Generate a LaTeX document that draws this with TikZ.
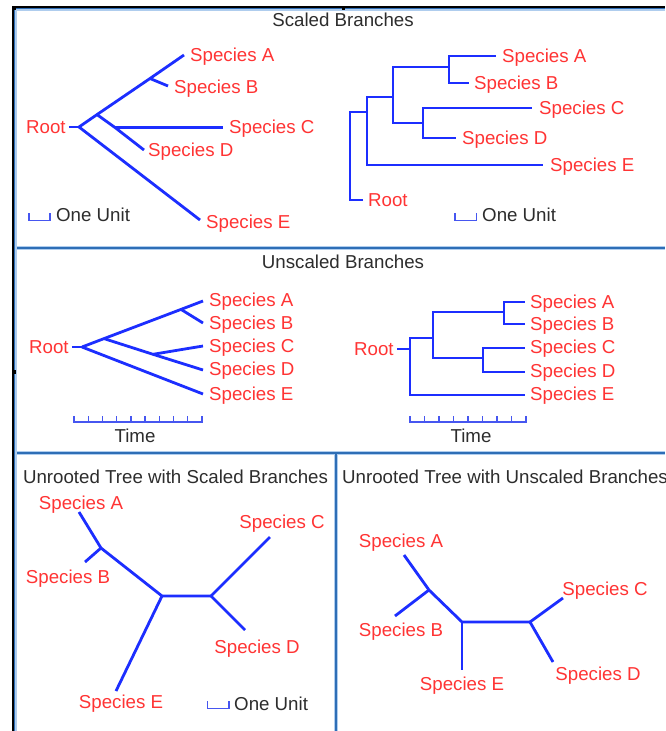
\documentclass[tikz,border=0pt]{standalone}
\usepackage{fontspec}
\setmainfont{Liberation Sans}
\definecolor{treeblue}{RGB}{28,46,255}
\definecolor{barblue}{RGB}{70,86,240}
\definecolor{labred}{RGB}{255,52,52}
\definecolor{titlegray}{RGB}{45,45,45}
\definecolor{frameblue}{RGB}{46,110,182}
\definecolor{framelight}{RGB}{175,205,238}
\begin{document}
\begin{tikzpicture}[x=1pt,y=-1pt,
  branch/.style={draw=treeblue, line width=2.8pt, line join=miter},
  scalebar/.style={draw=barblue, line width=1.3pt},
  txt/.style={inner sep=0pt, text height=13.4pt, text depth=0pt,
    font=\fontsize{18.7}{22}\selectfont},
  species/.style={txt, text=labred},
  heading/.style={txt, text=titlegray},
  sep/.style={draw=frameblue, line width=2pt},
  sephalo/.style={draw=framelight, line width=4.5pt}]
\useasboundingbox (0,0) rectangle (665,731);
\clip (0,0) rectangle (665,731);
\fill[white] (0,0) rectangle (665,731);

% ---- frame and panel separators ----
\draw[sephalo] (13,248) -- (665,248);
\draw[sephalo] (13,453) -- (665,453);
\draw[sephalo] (336,453) -- (336,731);
\draw[sep] (13,248) -- (665,248);
\draw[sep] (13,453) -- (665,453);
\draw[sep] (336,453) -- (336,731);
\draw[framelight, line width=3pt] (15.5,731) -- (15.5,9.5) -- (665,9.5);
\draw[frameblue, line width=2pt] (13.8,731) -- (13.8,7.8) -- (665,7.8);
\draw[black, line width=1.3pt] (12.9,731) -- (12.9,6.9) -- (665,6.9);
\fill[black] (12,6) rectangle (15.5,10);
\fill[black] (341.5,6) rectangle (344.5,10);
\fill[black] (12,370) rectangle (15.5,374);

% ---- titles ----
\node[heading] (t1) at (343,20) {Scaled Branches};
\node[heading] (t2) at (343,262) {Unscaled Branches};
\node[heading] (t3) at (175.5,477) {Unrooted Tree with Scaled Branches};
\node[heading, anchor=west] (t4) at (342,477) {Unrooted Tree with Unscaled Branches};

% ---- scaled branches, diagonal ----
\node[species, anchor=west] (aR) at (26,127) {Root};
\node[species, anchor=west] (aA) at (190,55) {Species A};
\node[species, anchor=west] (aB) at (174,87) {Species B};
\node[species, anchor=west] (aC) at (229,127) {Species C};
\node[species, anchor=west] (aD) at (148,150) {Species D};
\node[species, anchor=west] (aE) at (206,222) {Species E};
\coordinate (ar) at (79,127);
\coordinate (an1) at (97,114.6);
\coordinate (anab) at (150,78.5);
\coordinate (ancd) at (115,127.5);
\coordinate (aa) at (184,55);
\coordinate (ab) at (168,86);
\coordinate (ac) at (223,127.5);
\coordinate (ad) at (144,150);
\coordinate (ae) at (200,220);
\draw[branch] ([xshift=3pt]aR.east) -- (ar);
\draw[branch] (ar) -- (an1) -- (anab) -- (aa);
\draw[branch] (anab) -- (ab);
\draw[branch] (an1) -- (ancd) -- (ad);
\draw[branch] (ancd) -- (ac);
\draw[branch] (ar) -- (ae);
\draw[scalebar] (29,213) -- (29,220.5) -- (50,220.5) -- (50,213);
\node[heading, anchor=west] (aU) at (56,215) {One Unit};

% ---- scaled branches, rectangular ----
\node[species, anchor=west] (bR) at (368,200) {Root};
\node[species, anchor=west] (bA) at (502,56) {Species A};
\node[species, anchor=west] (bB) at (474,83) {Species B};
\node[species, anchor=west] (bC) at (539,108) {Species C};
\node[species, anchor=west] (bD) at (462,138) {Species D};
\node[species, anchor=west] (bE) at (550,165) {Species E};
\coordinate (b0) at (350,112);
\coordinate (b1) at (367,112);
\coordinate (b2) at (393,97);
\coordinate (b3) at (449,67);
\coordinate (b4) at (423,123);
\coordinate (ba) at (496,56);
\coordinate (bb) at (469,83);
\coordinate (bc) at (532,108);
\coordinate (bd) at (456,138);
\coordinate (be) at (543,165);
\draw[branch] ([xshift=-5pt]bR.west) -| (b0) -- (b1);
\draw[branch] (b1) |- (b2);
\draw[branch] (b1) |- (be);
\draw[branch] (b2) |- (b3);
\draw[branch] (b2) |- (b4);
\draw[branch] (b3) |- (ba);
\draw[branch] (b3) |- (bb);
\draw[branch] (b4) |- (bc);
\draw[branch] (b4) |- (bd);
\draw[scalebar] (455,213) -- (455,220.5) -- (476.5,220.5) -- (476.5,213);
\node[heading, anchor=west] (bU) at (482,215) {One Unit};

% ---- unscaled branches, diagonal ----
\node[species, anchor=west] (cR) at (29,347) {Root};
\node[species, anchor=west] (cA) at (209,300) {Species A};
\node[species, anchor=west] (cB) at (209,323) {Species B};
\node[species, anchor=west] (cC) at (209,346) {Species C};
\node[species, anchor=west] (cD) at (209,369) {Species D};
\node[species, anchor=west] (cE) at (209,394) {Species E};
\coordinate (cr) at (82,347);
\coordinate (cn1) at (104,338.6);
\coordinate (cnab) at (181,309.4);
\coordinate (cncd) at (153,354.3);
\coordinate (ca) at (203,301);
\coordinate (cb) at (203,323);
\coordinate (cc) at (203,346);
\coordinate (cd) at (203,370);
\coordinate (ce) at (203,394);
\draw[branch] ([xshift=3pt]cR.east) -- (cr);
\draw[branch] (cr) -- (cn1) -- (cnab) -- (ca);
\draw[branch] (cnab) -- (cb);
\draw[branch] (cn1) -- (cncd) -- (cd);
\draw[branch] (cncd) -- (cc);
\draw[branch] (cr) -- (ce);
\draw[scalebar] (74,422) -- (202,422);
\foreach \i in {0,...,9} \draw[scalebar] ({74+\i*128/9},422.6) -- ++(0,-7);
\node[heading] (cT) at (135,436) {Time};

% ---- unscaled branches, rectangular ----
\node[species, anchor=west] (dR) at (354,349) {Root};
\node[species, anchor=west] (dA) at (530,302) {Species A};
\node[species, anchor=west] (dB) at (530,324) {Species B};
\node[species, anchor=west] (dC) at (530,347) {Species C};
\node[species, anchor=west] (dD) at (530,371) {Species D};
\node[species, anchor=west] (dE) at (530,394) {Species E};
\coordinate (d1) at (410,349);
\coordinate (d2) at (433,338);
\coordinate (d3) at (504,312);
\coordinate (d4) at (483,358);
\coordinate (da) at (525,302);
\coordinate (db) at (525,324);
\coordinate (dc) at (525,348);
\coordinate (dd) at (525,372);
\coordinate (de) at (525,395);
\draw[branch] ([xshift=3.5pt]dR.east) -- (d1);
\draw[branch] (d1) |- (d2);
\draw[branch] (d1) |- (de);
\draw[branch] (d2) |- (d3);
\draw[branch] (d2) |- (d4);
\draw[branch] (d3) |- (da);
\draw[branch] (d3) |- (db);
\draw[branch] (d4) |- (dc);
\draw[branch] (d4) |- (dd);
\draw[scalebar] (410,422) -- (526,422);
\foreach \i in {0,...,8} \draw[scalebar] ({410+\i*116/8},422.6) -- ++(0,-7);
\node[heading] (dT) at (471,436) {Time};

% ---- unrooted tree, scaled ----
\node[species] (eA) at (81,503) {Species A};
\node[species] (eB) at (68,577) {Species B};
\node[species] (eC) at (282,522) {Species C};
\node[species] (eD) at (257,647) {Species D};
\node[species] (eE) at (121,702) {Species E};
\coordinate (e1) at (101,548);
\coordinate (e2) at (162,596);
\coordinate (e3) at (211,596);
\coordinate (ea) at (79,512);
\coordinate (eb) at (85,562);
\coordinate (ec) at (270,537);
\coordinate (ed) at (245,630);
\coordinate (ee) at (116,691);
\draw[branch] (ea) -- (e1) -- (e2) -- (e3);
\draw[branch] (e1) -- (eb);
\draw[branch] (e2) -- (ee);
\draw[branch] (e3) -- (ec);
\draw[branch] (e3) -- (ed);
\draw[scalebar] (207.5,701) -- (207.5,708.5) -- (229,708.5) -- (229,701);
\node[heading, anchor=west] (eU) at (234,704) {One Unit};

% ---- unrooted tree, unscaled ----
\node[species] (fA) at (401,541) {Species A};
\node[species] (fB) at (401,630) {Species B};
\node[species] (fC) at (605,589) {Species C};
\node[species] (fD) at (598,674) {Species D};
\node[species] (fE) at (462,684) {Species E};
\coordinate (f1) at (429,590);
\coordinate (f2) at (462,622);
\coordinate (f3) at (530,622);
\coordinate (fa) at (404,555);
\coordinate (fb) at (395,616);
\coordinate (fc) at (563,598);
\coordinate (fd) at (553,662);
\coordinate (fe) at (462,670);
\draw[branch] (fa) -- (f1) -- (f2) -- (f3);
\draw[branch] (f1) -- (fb);
\draw[branch] (f2) -- (fe);
\draw[branch] (f3) -- (fc);
\draw[branch] (f3) -- (fd);
\end{tikzpicture}
\end{document}
